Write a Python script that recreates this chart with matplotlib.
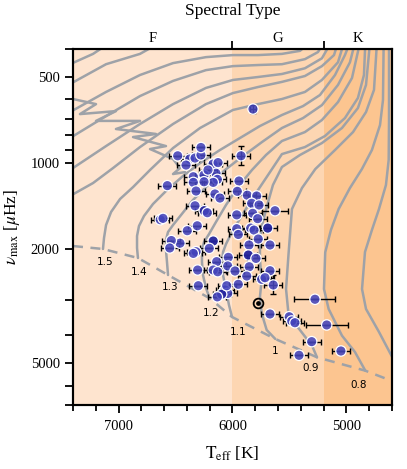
import matplotlib
matplotlib.use('Agg')
import matplotlib.pyplot as plt
from matplotlib.ticker import FixedLocator, NullFormatter, MultipleLocator

plt.rcParams['font.family'] = ['Liberation Serif', 'DejaVu Serif']
plt.rcParams['mathtext.fontset'] = 'stix'

# ---------------- evolutionary tracks (Teff [K], numax [uHz]) ----------------
trk_07_T = [4570, 4714, 4828, 4863, 4837, 4776, 4714, 4653, 4629, 4626, 4626]
trk_07_nu = [5000, 3892, 3235, 2755, 2046, 1714, 1448, 1194, 976, 708, 380]
trk_08_T = [4834, 4925, 5039, 5156, 5197, 5186, 5136, 5068, 4969, 4864, 4776, 4705, 4679, 4673]
trk_08_nu = [5313, 4572, 4008, 3235, 2755, 2051, 1714, 1448, 1223, 1050, 901, 737, 603, 380]
trk_09_T = [5258, 5302, 5408, 5507, 5530, 5507, 5478, 5390, 5273, 5100, 4942, 4828, 4758, 4732]
trk_09_nu = [4771, 4344, 3830, 3414, 2755, 2051, 1448, 1223, 1050, 901, 780, 664, 556, 380]
trk_10_T = [5624, 5700, 5744, 5759, 5744, 5759, 5759, 5741, 5697, 5645, 5566, 5408, 5215, 5039, 4899, 4828, 4793]
trk_10_nu = [4118, 3830, 3349, 2930, 2562, 2181, 1858, 1647, 1413, 1194, 1033, 938, 852, 755, 643, 534, 380]
trk_11_T = [6004, 6031, 6057, 6083, 6092, 6083, 6057, 6004, 5899, 5776, 5671, 5566, 5364, 5188, 5013, 4899, 4846, 4834]
trk_11_nu = [3450, 3132, 2777, 2462, 2217, 2046, 1919, 1742, 1483, 1243, 1076, 931, 880, 805, 697, 593, 493, 380]
trk_12_T = [6200, 6233, 6259, 6268, 6268, 6250, 6206, 6145, 6057, 5952, 5829, 5706, 5566, 5364, 5215, 5074, 4951, 4881]
trk_12_nu = [2969, 2733, 2462, 2217, 2013, 1888, 1771, 1607, 1402, 1214, 1058, 938, 838, 780, 708, 613, 505, 380]
trk_13_T = [6566, 6575, 6584, 6584, 6566, 6522, 6452, 6347, 6215, 6066, 5908, 5741, 5566, 5381, 5215, 5074, 4969, 4925]
trk_13_nu = [2462, 2217, 2013, 1858, 1742, 1647, 1520, 1347, 1194, 1058, 946, 845, 755, 697, 628, 534, 445, 380]
trk_14_T = [6830, 6838, 6838, 6821, 6777, 6698, 6575, 6435, 6285, 6110, 5934, 5759, 5566, 5381, 5232, 5100, 5013, 4969]
trk_14_nu = [2147, 1981, 1799, 1660, 1532, 1391, 1243, 1111, 1001, 901, 818, 743, 680, 633, 579, 493, 420, 380]
trk_15_T = [7137, 7128, 7110, 7066, 6987, 6873, 6724, 6522, 6285, 5996, 5776, 5566, 5364, 5215, 5074, 5022]
trk_15_nu = [1997, 1829, 1647, 1483, 1336, 1214, 1058, 887, 755, 653, 623, 598, 565, 513, 445, 380]
trk_16_T = [7426, 7224, 7049, 6812, 6522, 6233, 5996, 5776, 5566, 5364, 5215, 5109, 5074]
trk_16_nu = [1304, 1175, 1042, 880, 731, 623, 570, 543, 521, 497, 459, 420, 380]
trk_17_T = [7426, 7110, 6812, 6522, 6233, 5996, 5776, 5566, 5364, 5215, 5136]
trk_17_nu = [1058, 873, 731, 623, 547, 513, 501, 489, 467, 431, 380]
trk_18_T = [7426, 7110, 6812, 6522, 6233, 5996, 5776, 5566, 5364, 5250, 5197]
trk_18_nu = [818, 686, 584, 517, 474, 459, 455, 452, 434, 410, 380]
trk_19_T = [7426, 7110, 6812, 6522, 6233, 5996, 5776, 5566, 5408, 5320]
trk_19_nu = [664, 565, 493, 448, 427, 420, 420, 416, 406, 380]
trk_20_T = [7426, 7110, 6812, 6636]
trk_20_nu = [530, 452, 416, 380]
trk_21_T = [7426, 7224, 7075]
trk_21_nu = [452, 416, 380]
trk_zig_T = [7400, 7198, 7339, 7023, 7198, 6812, 7023, 6672, 6873, 6584, 6724, 6522, 6461, 6522, 6417]
trk_zig_nu = [598, 623, 675, 659, 713, 713, 761, 792, 812, 873, 894, 969, 1042, 1093, 1076]

zams_T = [7400, 7137, 6830, 6566, 6200, 6004, 5624, 5258, 4834, 4600]
zams_nu = [1950, 1997, 2147, 2462, 2969, 3450, 4118, 4771, 5313, 5772]

mass_labels = ['0.8', '0.9', '1', '1.1', '1.2', '1.3', '1.4', '1.5']
label_T = [4892, 5311, 5624, 5952, 6186, 6551, 6821, 7119]
label_nu = [5942, 5212, 4545, 3900, 3341, 2711, 2409, 2211]

# ---------------- stars ----------------
teff = [5820, 5925, 6481, 6376, 6329, 6277, 6277, 6171, 6127, 6344, 6250, 6145, 6133, 6169, 6344,
        6250, 5943, 6320, 6154, 6110, 5958, 5870, 5788, 5832, 5767, 6329, 6248, 6221, 5963, 5823,
        5779, 5627, 6309, 6397, 5963, 5949, 5840, 5811, 5691, 5774, 6461, 6320, 6344, 6169, 6204,
        5855, 5861, 5794, 5671, 6306, 6139, 6037, 6042, 6169, 6130, 5978, 5853, 5875, 5671, 6300,
        6066, 6042, 6095, 6133, 6051, 5949, 5744, 5715, 5642, 5276, 5671, 5502, 5480, 5452, 5173,
        5305, 5048, 5416, 6572, 6634, 6610, 6537, 6551, 6215, 6408]
numax = [648, 944, 944, 969, 961, 938, 883, 1009, 997, 1117, 1102, 1086, 1141, 1169, 1169,
         1163, 1156, 1253, 1283, 1326, 1256, 1296, 1304, 1383, 1402, 1411, 1468, 1492, 1518, 1499,
         1565, 1468, 1657, 1724, 1697, 1777, 1688, 1715, 1688, 1843, 1906, 2041, 2069, 1873, 1987,
         1934, 2096, 2154, 1934, 2365, 2211, 2136, 2289, 2365, 2398, 2384, 2303, 2482, 2378, 2683,
         2777, 2854, 2872, 2935, 2683, 2653, 2548, 2516, 2668, 2992, 3368, 3443, 3563, 3613, 3679,
         4207, 4535, 4695, 1200, 1578, 1561, 1866, 1981, 1058, 1017]
teff_err = [30, 80, 80, 80, 80, 80, 80, 80, 80, 80, 80, 80, 80, 80, 80,
            80, 80, 80, 80, 80, 80, 80, 80, 80, 80, 80, 80, 80, 80, 80,
            80, 110, 80, 80, 80, 80, 80, 80, 80, 80, 80, 80, 80, 80, 80,
            80, 80, 80, 80, 80, 80, 80, 80, 80, 80, 80, 80, 80, 80, 80,
            80, 80, 80, 80, 80, 80, 80, 80, 80, 180, 80, 80, 80, 80, 185,
            80, 80, 80, 80, 80, 80, 80, 80, 80, 80]
numax_err = [20, 75] + [0] * 66 + [200] + [0] * 16
dark = [26, 38, 43, 46, 62]

sun_T = [5772]
sun_nu = [3090]

# ---------------- figure ----------------
fig = plt.figure(figsize=(4.07, 4.69), dpi=100)
ax = fig.add_axes([0.1794, 0.1365, 0.7837, 0.759])
ax.set_yscale('log')
ax.set_xlim(7400, 4600)
ax.set_ylim(7000, 400)

ax.axvspan(7400, 6000, color='#fee4cf', lw=0, zorder=0)
ax.axvspan(6000, 5200, color='#fdd6b2', lw=0, zorder=0)
ax.axvspan(5200, 4600, color='#fcc590', lw=0, zorder=0)

gray = '#9ea2a8'
tracks = [(trk_07_T, trk_07_nu), (trk_08_T, trk_08_nu), (trk_09_T, trk_09_nu), (trk_10_T, trk_10_nu),
          (trk_11_T, trk_11_nu), (trk_12_T, trk_12_nu), (trk_13_T, trk_13_nu), (trk_14_T, trk_14_nu),
          (trk_15_T, trk_15_nu), (trk_16_T, trk_16_nu), (trk_17_T, trk_17_nu), (trk_18_T, trk_18_nu),
          (trk_19_T, trk_19_nu), (trk_20_T, trk_20_nu), (trk_21_T, trk_21_nu), (trk_zig_T, trk_zig_nu)]
for tT, tn in tracks:
    ax.plot(tT, tn, color=gray, lw=1.8, zorder=1, solid_joinstyle='round', solid_capstyle='round')
ax.plot(zams_T, zams_nu, color=gray, lw=1.8, ls=(0, (4, 3)), zorder=1.5)

for lab, lt, ln in zip(mass_labels, label_T, label_nu):
    ax.text(lt, ln, lab, fontsize=7.5, family='DejaVu Sans', ha='center', va='center', zorder=2)

ax.errorbar(teff, numax, xerr=teff_err, yerr=numax_err, fmt='none', ecolor='k',
            elinewidth=1.0, capsize=2.2, capthick=1.0, zorder=3)
fcols = [(0.14, 0.14, 0.62, 0.95) if i in dark else (0.27, 0.27, 0.74, 0.88) for i in range(len(teff))]
ax.scatter(teff, numax, s=56, facecolors=fcols, edgecolors='white', linewidths=0.9, zorder=4)

ax.plot(sun_T, sun_nu, marker='o', ms=7, mfc='none', mec='k', mew=1.3, zorder=5, ls='none')
ax.plot(sun_T, sun_nu, marker='o', ms=2.4, color='k', zorder=5, ls='none')

# ticks
ax.xaxis.set_major_locator(FixedLocator([5000, 6000, 7000]))
ax.xaxis.set_minor_locator(MultipleLocator(200))
ax.yaxis.set_major_locator(FixedLocator([500, 1000, 2000, 5000]))
ax.set_yticklabels(['500', '1000', '2000', '5000'])
ax.yaxis.set_minor_locator(FixedLocator([400, 600, 700, 800, 900, 3000, 4000, 6000, 7000]))
ax.yaxis.set_minor_formatter(NullFormatter())
ax.tick_params(which='both', direction='out', width=1.3, color='k', labelsize=10.5)
ax.tick_params(which='major', length=6)
ax.tick_params(axis='x', which='minor', length=4)
ax.tick_params(axis='y', which='minor', length=6)
ax.tick_params(axis='x', pad=5)
for sp in ax.spines.values():
    sp.set_linewidth(1.5)

ax.set_xlabel(r'${\rm T}_{\rm eff}$ [K]', fontsize=12.5, labelpad=8)
ax.set_ylabel(r'$\nu_{\rm max}$ [$\mu$Hz]', fontsize=12.5, labelpad=6)

ax2 = ax.twiny()
ax2.set_xlim(ax.get_xlim())
ax2.xaxis.set_major_locator(FixedLocator([6000, 5200]))
ax2.set_xticklabels(['', ''])
ax2.xaxis.set_minor_locator(FixedLocator([6700, 5600, 4900]))
ax2.set_xticklabels(['F', 'G', 'K'], minor=True)
ax2.tick_params(which='major', direction='out', length=6, width=1.3)
ax2.tick_params(which='minor', length=0, labelsize=10.5, pad=3)
ax2.set_xlabel('Spectral Type', fontsize=12.5, labelpad=12)
for sp in ax2.spines.values():
    sp.set_linewidth(1.5)

fig.savefig('out.png', dpi=100)
